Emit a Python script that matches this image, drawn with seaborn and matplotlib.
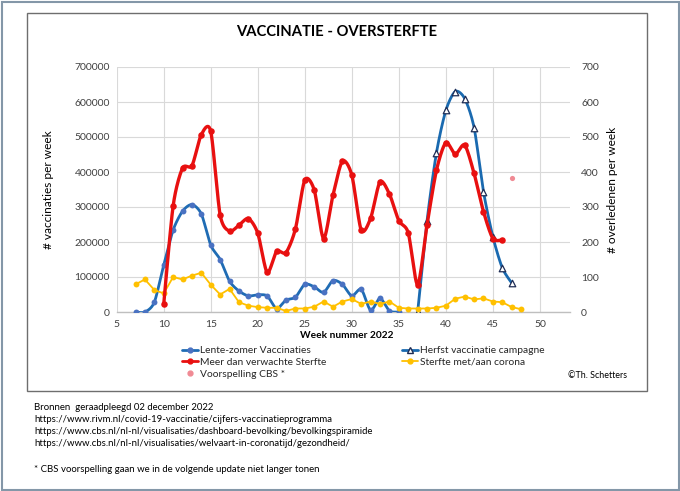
import numpy as np
import pandas as pd
import matplotlib
matplotlib.use("Agg")
import matplotlib.pyplot as plt
from matplotlib.lines import Line2D
from matplotlib.patches import Rectangle
import seaborn as sns

sns.set_theme(style="white")
plt.rcParams['font.family'] = ['Lato', 'DejaVu Sans']

# ---------------- data ----------------
weeks_lente = list(range(7, 36))
lente_vacc = [0, 0, 28000, 134000, 234000, 288000, 307000, 280000, 191000, 150000,
              88000, 60000, 46000, 49000, 46000, 10000, 34000, 42000, 79000, 72000,
              56000, 90000, 79000, 46000, 65000, 5000, 39000, 3000, 0]

weeks_herfst = list(range(37, 48))
herfst_vacc = [0, 261000, 455000, 576000, 630000, 610000, 527000, 344000, 215000,
               126000, 83000]

weeks_sterfte = list(range(10, 47))
meer_sterfte = [22, 303, 411, 418, 507, 516, 277, 231, 248, 267, 225, 113, 173, 170,
                237, 377, 349, 210, 334, 431, 391, 234, 268, 372, 337, 261, 226, 78,
                249, 405, 484, 451, 477, 396, 287, 210, 206]

weeks_corona = list(range(7, 49))
corona_sterfte = [79, 93, 63, 53, 100, 93, 104, 112, 78, 50, 66, 28, 18, 14, 12, 12, 3,
                  10, 10, 15, 30, 15, 30, 37, 23, 30, 23, 30, 12, 10, 10, 10, 12, 18,
                  38, 44, 36, 39, 30, 28, 14, 8]

week_cbs = [47]
voorspelling_cbs = [384]

xticks = [5, 10, 15, 20, 25, 30, 35, 40, 45, 50]
left_ticks = [0, 100000, 200000, 300000, 400000, 500000, 600000, 700000]
right_ticks = [0, 100, 200, 300, 400, 500, 600, 700]


def smooth(x, y, n=24, k=1 / 7.5):
    """Excel-like smoothed line (Bezier through the data points)."""
    x = np.asarray(x, float)
    y = np.asarray(y, float)
    P = np.column_stack([x, y])
    P = np.vstack([P[0], P, P[-1]])
    out = []
    t = np.linspace(0, 1, n)[:, None]
    for i in range(1, len(P) - 2):
        p0, p1, p2, p3 = P[i - 1], P[i], P[i + 1], P[i + 2]
        c1 = p1 + (p2 - p0) * k
        c2 = p2 - (p3 - p1) * k
        seg = ((1 - t) ** 3) * p1 + 3 * ((1 - t) ** 2) * t * c1 + 3 * (1 - t) * t ** 2 * c2 + t ** 3 * p2
        out.append(seg if i == 1 else seg[1:])
    S = np.vstack(out)
    return pd.DataFrame({"x": S[:, 0], "y": S[:, 1]})


W, H = 680, 491
fig = plt.figure(figsize=(W / 100, H / 100), dpi=100)

# outer border and chart box
fig.patches.append(Rectangle((1.5 / W, 1.5 / H), 1 - 3 / W, 1 - 3 / H, transform=fig.transFigure,
                             fill=False, edgecolor="#8497a8", lw=1.5, zorder=0))
fig.patches.append(Rectangle((27 / W, 1 - 391 / H), (647 - 27) / W, (391 - 13) / H,
                             transform=fig.transFigure, fill=False, edgecolor="#6e6e6e",
                             lw=1.0, zorder=0))

ax = fig.add_axes([116.7 / W, 1 - 312 / H, (570 - 116.7) / W, (312 - 67) / H])
ax2 = ax.twinx()

BLUE = "#1f6cb4"
BLUE_M = "#4a72c2"
RED = "#e81010"
YEL = "#ffc000"
NAVY = "#1f2d55"

# Lente-zomer vaccinaties (left axis)
d = smooth(weeks_lente, lente_vacc)
sns.lineplot(data=d, x="x", y="y", sort=False, ax=ax, color=BLUE, lw=2.0, zorder=3)
sns.scatterplot(x=weeks_lente, y=lente_vacc, ax=ax, color=BLUE_M, s=18, linewidth=0, zorder=4)

# Herfst vaccinatie campagne (left axis)
d = smooth(weeks_herfst, herfst_vacc)
sns.lineplot(data=d, x="x", y="y", sort=False, ax=ax, color="#1a6ab0", lw=2.0, zorder=3)
sns.scatterplot(x=weeks_herfst, y=herfst_vacc, ax=ax, marker="^", s=22, facecolor="white",
                edgecolor=NAVY, linewidth=0.9, zorder=4)

# Sterfte (right axis)
sns.lineplot(x=weeks_corona, y=corona_sterfte, ax=ax2, color=YEL, lw=1.3, zorder=3)
sns.scatterplot(x=weeks_corona, y=corona_sterfte, ax=ax2, color=YEL, s=18, linewidth=0, zorder=4)

d = smooth(weeks_sterfte, meer_sterfte)
sns.lineplot(data=d, x="x", y="y", sort=False, ax=ax2, color=RED, lw=2.4, zorder=5)
sns.scatterplot(x=weeks_sterfte, y=meer_sterfte, ax=ax2, color=RED, s=22, linewidth=0, zorder=6)

sns.scatterplot(x=week_cbs, y=voorspelling_cbs, ax=ax2, color="#f08a94", s=14, linewidth=0, zorder=6)

for a in (ax, ax2):
    a.set_xlim(5, 53.2)
    for s in a.spines.values():
        s.set_visible(False)
    a.set_xlabel("")
    a.set_ylabel("")
ax.spines["bottom"].set_visible(True)
ax.spines["bottom"].set_color("#bfbfbf")
ax.spines["bottom"].set_linewidth(1.0)

ax.set_ylim(0, 700000)
ax2.set_ylim(0, 700)
ax.set_xticks(xticks)
ax.set_xticklabels([str(v) for v in xticks])
ax.set_yticks(left_ticks)
ax.set_yticklabels([str(v) for v in left_ticks])
ax2.set_yticks(right_ticks)
ax2.set_yticklabels([str(v) for v in right_ticks])
ax.grid(True, color="#d9d9d9", lw=0.8)
ax.set_axisbelow(True)
ax2.grid(False)
ax.tick_params(axis="both", length=0, labelsize=7.5, colors="#404040", pad=5)
ax2.tick_params(axis="y", length=0, labelsize=7.5, colors="#404040", pad=8)
ax.tick_params(axis="x", pad=6)

fig.text(337 / W, 1 - 31.5 / H, "VACCINATIE - OVERSTERFTE", ha="center", va="center",
         fontsize=10.6, fontweight="bold", color="#000000")
fig.text(48 / W, 1 - 190 / H, "# vaccinaties per week", rotation=90, ha="center", va="center",
         fontsize=8.6, color="#000000")
fig.text(612 / W, 1 - 190 / H, "# overledenen per week", rotation=90, ha="center", va="center",
         fontsize=8.6, color="#000000")
fig.text(347 / W, 1 - 335 / H, "Week nummer 2022", ha="center", va="center",
         fontsize=7.3, fontweight="bold", color="#000000")
fig.text(568 / W, 1 - 376 / H, "\u00a9Th. Schetters", ha="left", va="center",
         fontsize=6.4, color="#000000")

handles = [
    Line2D([], [], color=BLUE, lw=2, marker="o", ms=3.5, mfc=BLUE_M, mec=BLUE_M),
    Line2D([], [], color=RED, lw=2, marker="o", ms=3.5, mfc=RED, mec=RED),
    Line2D([], [], color="none", marker="o", ms=3.5, mfc="#f08a94", mec="#f08a94", lw=0),
    Line2D([], [], color="#1a6ab0", lw=2, marker="^", ms=4, mfc="white", mec=NAVY),
    Line2D([], [], color=YEL, lw=1.3, marker="o", ms=3.5, mfc=YEL, mec=YEL),
]
labels = ["Lente-zomer Vaccinaties", "Meer dan verwachte Sterfte", "Voorspelling CBS *",
          "Herfst vaccinatie campagne", "Sterfte met/aan corona"]
fig.legend(handles, labels, loc="upper left", bbox_to_anchor=(182 / W, 1 - 346 / H), ncol=2,
           frameon=False, fontsize=7.4, handlelength=1.6, handletextpad=0.2, columnspacing=7.3,
           labelspacing=0.25, borderaxespad=0, borderpad=0)

src = ["Bronnen  geraadpleegd 02 december 2022",
       "https://www.rivm.nl/covid-19-vaccinatie/cijfers-vaccinatieprogramma",
       "https://www.cbs.nl/nl-nl/visualisaties/dashboard-bevolking/bevolkingspiramide",
       "https://www.cbs.nl/nl-nl/visualisaties/welvaart-in-coronatijd/gezondheid/"]
for i, s in enumerate(src):
    fig.text(34 / W, 1 - (408 + 12 * i) / H, s, ha="left", va="center", fontsize=6.9,
             color="#000000")
fig.text(34 / W, 1 - 469 / H, "* CBS voorspelling gaan we in de volgende update niet langer tonen",
         ha="left", va="center", fontsize=6.9, color="#000000")

fig.savefig("out.png", dpi=100, facecolor="white")
